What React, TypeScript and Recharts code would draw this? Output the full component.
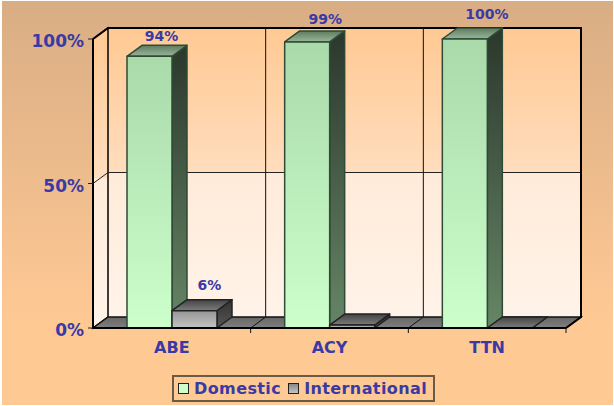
import { BarChart, Bar, XAxis, YAxis, Legend, LabelList } from 'recharts';

const categories = ['ABE', 'ACY', 'TTN'];
const domestic = [94, 99, 100];
const international = [6, 1, 0];
const valueTicks = [0, 50, 100];

const chartData = categories.map((name, i) => ({ name, Domestic: domestic[i], International: international[i] }));

const W = 614;
const H = 406;
const LEFT = 93;
const RIGHT = 566;
const TOP = 39;
const BOTTOM = 328;
const DX = 15;
const DY = -11;
const FONT = '"DejaVu Sans", Verdana, sans-serif';
const INK = '#3a3aa4';

const greenBar = { front: 'greenFront', side: 'greenSide', top: 'greenTop', stroke: '#2f4a36' };
const grayBar = { front: 'grayFront', side: 'graySide', top: 'grayTop', stroke: '#222222' };

const Bar3D = (props: any) => {
  const { x, y, width, height, skin } = props;
  const r = x + width;
  const b = y + height;
  return (
    <g strokeWidth={1.5} stroke={skin.stroke} strokeLinejoin="round">
      <polygon points={`${r},${y} ${r + DX},${y + DY} ${r + DX},${b + DY} ${r},${b}`} fill={`url(#${skin.side})`} />
      <polygon points={`${x},${y} ${x + DX},${y + DY} ${r + DX},${y + DY} ${r},${y}`} fill={`url(#${skin.top})`} />
      {height > 0 && <rect x={x} y={y} width={width} height={height} fill={`url(#${skin.front})`} />}
    </g>
  );
};

// shift of each value label from the middle of its bar, as in the source image
const labelShift: Record<number, [number, number]> = { 94: [12, -20], 99: [18, -23], 100: [22, -25], 6: [15, -26] };

const BarLabel = (props: any) => {
  const { x, y, width, value } = props;
  if (value < 5) return null;
  const [sx, sy] = labelShift[value] ?? [14, -22];
  return (
    <text x={x + width / 2 + sx} y={y + sy} fill={INK} fontFamily={FONT} fontSize={14} fontWeight="bold" textAnchor="middle" dominantBaseline="central">
      {`${value}%`}
    </text>
  );
};

const LegendBox = () => (
  <div
    style={{
      boxSizing: 'border-box',
      width: 263,
      height: 27,
      border: '2px solid #6b5a48',
      display: 'flex',
      alignItems: 'center',
      paddingLeft: 4,
      fontFamily: FONT,
      fontSize: 16,
      fontWeight: 'bold',
      color: INK,
      letterSpacing: 0.4,
    }}
  >
    {[
      { name: 'Domestic', color: '#ccffcc' },
      { name: 'International', color: 'linear-gradient(#888888,#c4c4c4)' },
    ].map((item) => (
      <span key={item.name} style={{ display: 'flex', alignItems: 'center', marginRight: 7 }}>
        <span style={{ boxSizing: 'border-box', width: 11, height: 11, border: '1px solid #222', background: item.color, marginRight: 5 }} />
        {item.name}
      </span>
    ))}
  </div>
);

// walls, floor and frame sit behind the transparent chart
const Backdrop = () => {
  const step = (RIGHT - LEFT) / categories.length;
  const mid = (TOP + BOTTOM) / 2;
  const dividers = [1, 2, 3].map((i) => LEFT + step * i);
  return (
    <svg width={W} height={H} style={{ position: 'absolute', left: 0, top: 0 }}>
      <defs>
        <linearGradient id="page" x1="0" y1="0" x2="0" y2="1">
          <stop offset="0" stopColor="#d9ad84" />
          <stop offset="0.8" stopColor="#ffc994" />
          <stop offset="1" stopColor="#ffc994" />
        </linearGradient>
        <linearGradient id="wall" x1="0" y1="0" x2="0" y2="1">
          <stop offset="0" stopColor="#ffc993" />
          <stop offset="0.5" stopColor="#ffddbd" />
          <stop offset="0.5" stopColor="#ffebd9" />
          <stop offset="1" stopColor="#fff3e9" />
        </linearGradient>
        <linearGradient id="floor" x1="0" y1="0" x2="0" y2="1">
          <stop offset="0" stopColor="#666666" />
          <stop offset="1" stopColor="#808080" />
        </linearGradient>
      </defs>
      <rect x={2} y={1} width={W - 3} height={H - 2} fill="url(#page)" />
      <rect x={LEFT + DX} y={TOP + DY} width={RIGHT - LEFT} height={BOTTOM - TOP} fill="url(#wall)" />
      <polygon
        points={`${LEFT},${TOP} ${LEFT + DX},${TOP + DY} ${LEFT + DX},${BOTTOM + DY} ${LEFT},${BOTTOM}`}
        fill="url(#wall)"
        stroke="#000"
        strokeWidth={1.5}
      />
      <polygon
        points={`${LEFT},${BOTTOM} ${LEFT + DX},${BOTTOM + DY} ${RIGHT + DX},${BOTTOM + DY} ${RIGHT},${BOTTOM}`}
        fill="url(#floor)"
        stroke="#111"
        strokeWidth={1.5}
      />
      <polyline points={`${LEFT},${mid} ${LEFT + DX},${mid + DY} ${RIGHT + DX},${mid + DY}`} fill="none" stroke="#222" strokeWidth={1} />
      <polyline
        points={`${LEFT},${TOP} ${LEFT + DX},${TOP + DY} ${RIGHT + DX},${TOP + DY} ${RIGHT + DX},${BOTTOM + DY} ${RIGHT},${BOTTOM}`}
        fill="none"
        stroke="#000"
        strokeWidth={2}
      />
      {dividers.map((x) => (
        <g key={x} stroke="#111">
          <line x1={x} y1={BOTTOM} x2={x} y2={BOTTOM + 5} strokeWidth={1} />
          {x < RIGHT && <polyline points={`${x},${BOTTOM} ${x + DX},${BOTTOM + DY} ${x + DX},${TOP + DY}`} fill="none" strokeWidth={1} />}
        </g>
      ))}
    </svg>
  );
};

export default function App() {
  return (
    <div style={{ position: 'absolute', left: 0, top: 0, width: W, height: H, background: '#fff' }}>
      <Backdrop />
      <div style={{ position: 'absolute', left: 0, top: 0 }}>
        <BarChart
          width={W}
          height={H}
          data={chartData}
          margin={{ top: TOP, right: W - RIGHT, bottom: 21, left: 0 }}
          barCategoryGap={34}
          barGap={0}
        >
          <defs>
            <linearGradient id="greenFront" x1="0" y1="0" x2="0" y2="1">
              <stop offset="0" stopColor="#aad9aa" />
              <stop offset="1" stopColor="#ccffcc" />
            </linearGradient>
            <linearGradient id="greenSide" x1="0" y1="0" x2="0" y2="1">
              <stop offset="0" stopColor="#2b372c" />
              <stop offset="1" stopColor="#668666" />
            </linearGradient>
            <linearGradient id="greenTop" x1="0" y1="0" x2="0" y2="1">
              <stop offset="0" stopColor="#5f7a60" />
              <stop offset="1" stopColor="#98b898" />
            </linearGradient>
            <linearGradient id="grayFront" x1="0" y1="0" x2="0" y2="1">
              <stop offset="0" stopColor="#959595" />
              <stop offset="1" stopColor="#c4c4c4" />
            </linearGradient>
            <linearGradient id="graySide" x1="0" y1="0" x2="0" y2="1">
              <stop offset="0" stopColor="#333333" />
              <stop offset="1" stopColor="#555555" />
            </linearGradient>
            <linearGradient id="grayTop" x1="0" y1="0" x2="0" y2="1">
              <stop offset="0" stopColor="#444444" />
              <stop offset="1" stopColor="#7c7c7c" />
            </linearGradient>
          </defs>
          <XAxis
            dataKey="name"
            height={30}
            axisLine={{ stroke: '#000', strokeWidth: 2 }}
            tickLine={false}
            tickMargin={8}
            tick={{ fill: INK, fontFamily: FONT, fontSize: 16, fontWeight: 'bold' }}
          />
          <YAxis
            width={LEFT}
            domain={[0, 100]}
            ticks={valueTicks}
            tickFormatter={(v: number) => `${v}%`}
            axisLine={{ stroke: '#000', strokeWidth: 2 }}
            tickLine={{ stroke: '#222' }}
            tickSize={5}
            tickMargin={4}
            tick={{ fill: INK, fontFamily: FONT, fontSize: 17, fontWeight: 'bold', dy: 2 }}
          />
          <Bar dataKey="Domestic" barSize={45} isAnimationActive={false} shape={(p: any) => <Bar3D {...p} skin={greenBar} />}>
            <LabelList dataKey="Domestic" content={BarLabel} />
          </Bar>
          <Bar dataKey="International" barSize={45} isAnimationActive={false} shape={(p: any) => <Bar3D {...p} skin={grayBar} />}>
            <LabelList dataKey="International" content={BarLabel} />
          </Bar>
          <Legend
            content={LegendBox}
            layout="horizontal"
            verticalAlign="bottom"
            wrapperStyle={{ left: 172, top: 375, bottom: 'auto', width: 263 }}
          />
        </BarChart>
      </div>
    </div>
  );
}
